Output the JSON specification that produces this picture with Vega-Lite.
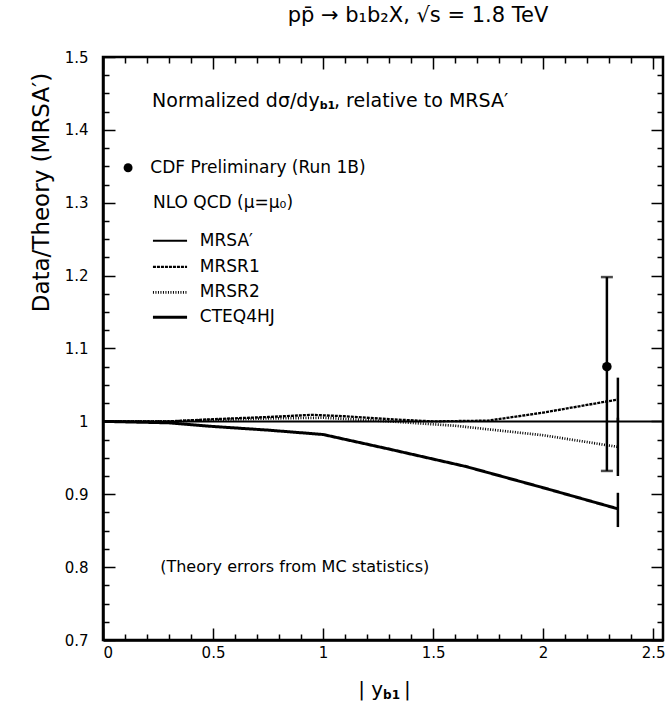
{
  "$schema": "https://vega.github.io/schema/vega-lite/v6.json",
  "width": 560,
  "height": 583,
  "autosize": {"type": "none"},
  "padding": {"left": 103, "top": 57, "right": 2, "bottom": 65},
  "background": "white",
  "title": {"text": "pp̄  → b₁b₂X, √s = 1.8 TeV", "fontSize": 21, "font": "DejaVu Sans", "fontWeight": "normal", "anchor": "middle", "dx": 35, "offset": 24, "color": "black"},
  "config": {
    "view": {"stroke": "black", "strokeWidth": 2.5},
    "font": "DejaVu Sans",
    "axis": {"domainColor": "black", "tickColor": "black", "labelColor": "black", "labelFont": "DejaVu Sans", "labelFontSize": 15, "grid": false, "tickWidth": 1.5, "domainWidth": 2.5, "titleColor": "black"},
    "text": {"color": "black", "font": "DejaVu Sans"}
  },
  "datasets": {
    "theory": [
      {"series": "MRSA′", "x": 0, "y": 1.0},
      {"series": "MRSA′", "x": 2.545, "y": 1.0},
      {"series": "MRSR1", "x": 0, "y": 1.0},
      {"series": "MRSR1", "x": 0.3, "y": 1.0},
      {"series": "MRSR1", "x": 0.5, "y": 1.003},
      {"series": "MRSR1", "x": 0.75, "y": 1.006},
      {"series": "MRSR1", "x": 0.95, "y": 1.009},
      {"series": "MRSR1", "x": 1.1, "y": 1.007},
      {"series": "MRSR1", "x": 1.3, "y": 1.003},
      {"series": "MRSR1", "x": 1.5, "y": 1.0},
      {"series": "MRSR1", "x": 1.75, "y": 1.001},
      {"series": "MRSR1", "x": 2.0, "y": 1.012},
      {"series": "MRSR1", "x": 2.34, "y": 1.03},
      {"series": "MRSR2", "x": 0, "y": 1.0},
      {"series": "MRSR2", "x": 0.3, "y": 1.0},
      {"series": "MRSR2", "x": 0.5, "y": 1.002},
      {"series": "MRSR2", "x": 0.75, "y": 1.004},
      {"series": "MRSR2", "x": 1.0, "y": 1.005},
      {"series": "MRSR2", "x": 1.3, "y": 1.0},
      {"series": "MRSR2", "x": 1.6, "y": 0.994},
      {"series": "MRSR2", "x": 2.0, "y": 0.981},
      {"series": "MRSR2", "x": 2.34, "y": 0.965},
      {"series": "CTEQ4HJ", "x": 0, "y": 1.0},
      {"series": "CTEQ4HJ", "x": 0.3, "y": 0.998},
      {"series": "CTEQ4HJ", "x": 0.5, "y": 0.993},
      {"series": "CTEQ4HJ", "x": 0.75, "y": 0.988},
      {"series": "CTEQ4HJ", "x": 1.0, "y": 0.982},
      {"series": "CTEQ4HJ", "x": 1.3, "y": 0.962},
      {"series": "CTEQ4HJ", "x": 1.65, "y": 0.938},
      {"series": "CTEQ4HJ", "x": 2.0, "y": 0.909},
      {"series": "CTEQ4HJ", "x": 2.34, "y": 0.88}
    ],
    "theoryErr": [
      {"series": "MRSR1", "x": 2.34, "lo": 1.0, "hi": 1.06},
      {"series": "MRSR2", "x": 2.34, "lo": 0.925, "hi": 1.005},
      {"series": "CTEQ4HJ", "x": 2.34, "lo": 0.855, "hi": 0.902}
    ],
    "cdf": [
      {"x": 2.29, "y": 1.075, "lo": 0.932, "hi": 1.198}
    ],
    "legendLines": [
      {"series": "MRSA′", "x": 0.227, "x2": 0.382, "y": 1.248},
      {"series": "MRSR1", "x": 0.227, "x2": 0.382, "y": 1.212},
      {"series": "MRSR2", "x": 0.227, "x2": 0.382, "y": 1.177},
      {"series": "CTEQ4HJ", "x": 0.227, "x2": 0.382, "y": 1.143}
    ],
    "legendPoint": [
      {"x": 0.114, "y": 1.348}
    ],
    "labels17": [
      {"x": 0.215, "y": 1.348, "text": "CDF Preliminary (Run 1B)"},
      {"x": 0.227, "y": 1.299, "text": "NLO QCD (μ=μ₀)"},
      {"x": 0.44, "y": 1.248, "text": "MRSA′"},
      {"x": 0.44, "y": 1.212, "text": "MRSR1"},
      {"x": 0.44, "y": 1.177, "text": "MRSR2"},
      {"x": 0.44, "y": 1.143, "text": "CTEQ4HJ"}
    ],
    "labels18": [
      {"x": 0.223, "y": 1.44, "text": "Normalized dσ/dy"},
      {"x": 1.05, "y": 1.44, "text": ", relative to MRSA′"}
    ],
    "subs": [
      {"x": 0.985, "y": 1.433, "text": "b1"}
    ],
    "note": [
      {"x": 0.26, "y": 0.8, "text": "(Theory errors from MC statistics)"}
    ],
    "xtitle": [
      {"x": 1.16, "y": 0.631, "text": "| y"},
      {"x": 1.368, "y": 0.631, "text": "|"}
    ],
    "xtitleSub": [
      {"x": 1.273, "y": 0.624, "text": "b1"}
    ]
  },
  "resolve": {"axis": {"x": "independent", "y": "independent"}},
  "layer": [
    {
      "data": {"name": "theory"},
      "mark": {"type": "line", "color": "black"},
      "encoding": {
        "x": {"field": "x", "type": "quantitative", "scale": {"domain": [0, 2.545], "nice": false, "zero": false},
              "axis": {"orient": "bottom", "values": [0, 0.5, 1, 1.5, 2, 2.5], "format": "~g", "tickSize": -12, "labelPadding": 17, "title": null}},
        "y": {"field": "y", "type": "quantitative", "scale": {"domain": [0.7, 1.5], "nice": false, "zero": false},
              "axis": {"orient": "left", "values": [0.7, 0.8, 0.9, 1, 1.1, 1.2, 1.3, 1.4, 1.5], "format": "~g", "tickSize": -12, "labelPadding": 27,
                       "title": "Data/Theory (MRSA′)", "titleFontSize": 23, "titleFont": "DejaVu Sans", "titleFontWeight": "normal",
                       "titleX": -62, "titleY": 135, "titleAngle": -90, "titleAlign": "center", "titleBaseline": "middle"}},
        "strokeDash": {"field": "series", "type": "nominal", "legend": null,
                       "scale": {"domain": ["MRSA′", "MRSR1", "MRSR2", "CTEQ4HJ"], "range": [[1, 0], [3, 1], [1, 1.5], [1, 0]]}},
        "strokeWidth": {"field": "series", "type": "nominal", "legend": null,
                        "scale": {"domain": ["MRSA′", "MRSR1", "MRSR2", "CTEQ4HJ"], "range": [2, 3, 2.5, 3.5]}}
      }
    },
    {
      "data": {"name": "theoryErr"},
      "mark": {"type": "rule", "color": "black", "strokeWidth": 2.5},
      "encoding": {
        "x": {"field": "x", "type": "quantitative",
              "axis": {"orient": "bottom", "values": [0.1, 0.2, 0.3, 0.4, 0.6, 0.7, 0.8, 0.9, 1.1, 1.2, 1.3, 1.4, 1.6, 1.7, 1.8, 1.9, 2.1, 2.2, 2.3, 2.4], "labels": false, "tickSize": -6, "domain": false, "title": null}},
        "y": {"field": "lo", "type": "quantitative",
              "axis": {"orient": "left", "values": [0.725, 0.75, 0.775, 0.825, 0.85, 0.875, 0.925, 0.95, 0.975, 1.025, 1.05, 1.075, 1.125, 1.15, 1.175, 1.225, 1.25, 1.275, 1.325, 1.35, 1.375, 1.425, 1.45, 1.475], "labels": false, "tickSize": -6, "domain": false, "title": null}},
        "y2": {"field": "hi"}
      }
    },
    {
      "data": {"name": "cdf"},
      "mark": {"type": "rule", "color": "black", "strokeWidth": 2.5},
      "encoding": {
        "x": {"field": "x", "type": "quantitative",
              "axis": {"orient": "top", "values": [0, 0.5, 1, 1.5, 2, 2.5], "labels": false, "tickSize": -12, "domain": false, "title": null}},
        "y": {"field": "lo", "type": "quantitative",
              "axis": {"orient": "right", "values": [0.7, 0.8, 0.9, 1, 1.1, 1.2, 1.3, 1.4, 1.5], "labels": false, "tickSize": -12, "domain": false, "title": null}},
        "y2": {"field": "hi"}
      }
    },
    {
      "data": {"name": "cdf"},
      "mark": {"type": "tick", "orient": "horizontal", "color": "black", "thickness": 2.5, "size": 12},
      "encoding": {
        "x": {"field": "x", "type": "quantitative",
              "axis": {"orient": "top", "values": [0.1, 0.2, 0.3, 0.4, 0.6, 0.7, 0.8, 0.9, 1.1, 1.2, 1.3, 1.4, 1.6, 1.7, 1.8, 1.9, 2.1, 2.2, 2.3, 2.4], "labels": false, "tickSize": -6, "domain": false, "title": null}},
        "y": {"field": "lo", "type": "quantitative",
              "axis": {"orient": "right", "values": [0.725, 0.75, 0.775, 0.825, 0.85, 0.875, 0.925, 0.95, 0.975, 1.025, 1.05, 1.075, 1.125, 1.15, 1.175, 1.225, 1.25, 1.275, 1.325, 1.35, 1.375, 1.425, 1.45, 1.475], "labels": false, "tickSize": -6, "domain": false, "title": null}}
      }
    },
    {
      "data": {"name": "cdf"},
      "mark": {"type": "tick", "orient": "horizontal", "color": "black", "thickness": 2.5, "size": 12},
      "encoding": {
        "x": {"field": "x", "type": "quantitative", "axis": null},
        "y": {"field": "hi", "type": "quantitative", "axis": null}
      }
    },
    {
      "data": {"name": "cdf"},
      "mark": {"type": "point", "shape": "circle", "filled": true, "color": "black", "size": 90, "opacity": 1},
      "encoding": {
        "x": {"field": "x", "type": "quantitative", "axis": null},
        "y": {"field": "y", "type": "quantitative", "axis": null}
      }
    },
    {
      "data": {"name": "legendLines"},
      "mark": {"type": "rule", "color": "black"},
      "encoding": {
        "x": {"field": "x", "type": "quantitative", "axis": null},
        "x2": {"field": "x2"},
        "y": {"field": "y", "type": "quantitative", "axis": null},
        "strokeDash": {"field": "series", "type": "nominal", "legend": null},
        "strokeWidth": {"field": "series", "type": "nominal", "legend": null}
      }
    },
    {
      "data": {"name": "legendPoint"},
      "mark": {"type": "point", "shape": "circle", "filled": true, "color": "black", "size": 80, "opacity": 1},
      "encoding": {
        "x": {"field": "x", "type": "quantitative", "axis": null},
        "y": {"field": "y", "type": "quantitative", "axis": null}
      }
    },
    {
      "data": {"name": "labels17"},
      "mark": {"type": "text", "align": "left", "baseline": "middle", "fontSize": 17, "color": "black"},
      "encoding": {
        "x": {"field": "x", "type": "quantitative", "axis": null},
        "y": {"field": "y", "type": "quantitative", "axis": null},
        "text": {"field": "text"}
      }
    },
    {
      "data": {"name": "labels18"},
      "mark": {"type": "text", "align": "left", "baseline": "middle", "fontSize": 19, "color": "black"},
      "encoding": {
        "x": {"field": "x", "type": "quantitative", "axis": null},
        "y": {"field": "y", "type": "quantitative", "axis": null},
        "text": {"field": "text"}
      }
    },
    {
      "data": {"name": "subs"},
      "mark": {"type": "text", "align": "left", "baseline": "middle", "fontSize": 11, "fontWeight": "bold", "color": "black"},
      "encoding": {
        "x": {"field": "x", "type": "quantitative", "axis": null},
        "y": {"field": "y", "type": "quantitative", "axis": null},
        "text": {"field": "text"}
      }
    },
    {
      "data": {"name": "note"},
      "mark": {"type": "text", "align": "left", "baseline": "middle", "fontSize": 16, "color": "black"},
      "encoding": {
        "x": {"field": "x", "type": "quantitative", "axis": null},
        "y": {"field": "y", "type": "quantitative", "axis": null},
        "text": {"field": "text"}
      }
    },
    {
      "data": {"name": "xtitle"},
      "mark": {"type": "text", "align": "left", "baseline": "middle", "fontSize": 20, "color": "black"},
      "encoding": {
        "x": {"field": "x", "type": "quantitative", "axis": null},
        "y": {"field": "y", "type": "quantitative", "axis": null},
        "text": {"field": "text"}
      }
    },
    {
      "data": {"name": "xtitleSub"},
      "mark": {"type": "text", "align": "left", "baseline": "middle", "fontSize": 12, "fontWeight": "bold", "color": "black"},
      "encoding": {
        "x": {"field": "x", "type": "quantitative", "axis": null},
        "y": {"field": "y", "type": "quantitative", "axis": null},
        "text": {"field": "text"}
      }
    }
  ]
}
